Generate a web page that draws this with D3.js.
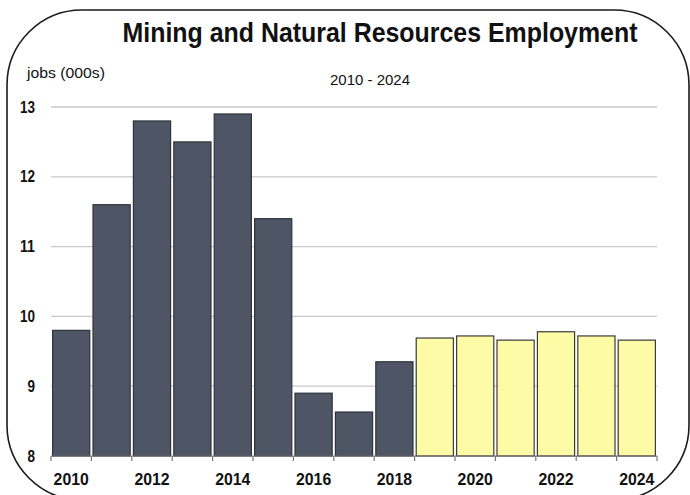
<!DOCTYPE html>
<html>
<head>
<meta charset="utf-8">
<script src="https://cdn.jsdelivr.net/npm/d3@7"></script>
<style>
  html, body { margin: 0; padding: 0; background: #fff; }
  svg { display: block; }
  text { font-family: "Liberation Sans Narrow", "Arial Narrow", "Liberation Sans", Arial, sans-serif; fill: #111; }
</style>
</head>
<body>
<svg id="chart" width="690" height="495"></svg>
<script>
// Mining and natural resources employment, thousands of jobs
const years = [2010, 2011, 2012, 2013, 2014, 2015, 2016, 2017, 2018, 2019, 2020, 2021, 2022, 2023, 2024];
const jobs = [9.8, 11.6, 12.8, 12.5, 12.9, 11.4, 8.9, 8.63, 9.35, 9.69, 9.72, 9.66, 9.78, 9.72, 9.66];
// 2019 onward are projected values
const projected = [false, false, false, false, false, false, false, false, false, true, true, true, true, true, true];
const yTicks = [8, 9, 10, 11, 12, 13];
const xLabels = [2010, 2012, 2014, 2016, 2018, 2020, 2022, 2024];

const W = 690, H = 495;
const margin = { left: 51, right: 33, top: 107, bottom: 39 };
const svg = d3.select("#chart");

// condensed text helper: squeezes a label into a given width
function narrow(sel, perChar) {
  sel.attr("lengthAdjust", "spacingAndGlyphs")
     .attr("textLength", d => String(d).length * perChar);
}

// rounded frame around the chart
svg.append("rect")
  .attr("x", 7).attr("y", 10)
  .attr("width", 682).attr("height", 490)
  .attr("rx", 75).attr("ry", 75)
  .attr("fill", "none")
  .attr("stroke", "#1a1a1a")
  .attr("stroke-width", 1.6);

const x = d3.scaleBand()
  .domain(years)
  .range([margin.left, W - margin.right])
  .paddingInner(0.08)
  .paddingOuter(0.04);

const y = d3.scaleLinear()
  .domain([8, 13])
  .range([H - margin.bottom, margin.top]);

// horizontal gridlines
svg.append("g")
  .selectAll("line")
  .data(yTicks.filter(d => d > 8))
  .join("line")
  .attr("x1", margin.left).attr("x2", W - margin.right)
  .attr("y1", d => y(d)).attr("y2", d => y(d))
  .attr("stroke", "#c8c8c8")
  .attr("stroke-width", 1.3);

// y tick labels
svg.append("g")
  .selectAll("text")
  .data(yTicks)
  .join("text")
  .attr("x", 35)
  .attr("y", d => y(d))
  .attr("dy", "0.35em")
  .attr("text-anchor", "end")
  .attr("font-size", 16)
  .attr("font-weight", "bold")
  .text(d => d)
  .call(narrow, 7.5);

// bars
svg.append("g")
  .selectAll("rect")
  .data(years)
  .join("rect")
  .attr("x", d => x(d))
  .attr("width", x.bandwidth())
  .attr("y", (d, i) => y(jobs[i]))
  .attr("height", (d, i) => y(8) - y(jobs[i]))
  .attr("fill", (d, i) => projected[i] ? "#fdfba6" : "#4e5666")
  .attr("stroke", (d, i) => projected[i] ? "#3a3a3a" : "#2e323a")
  .attr("stroke-width", 1.2);

// x axis with ticks between bars
const xAxisY = y(8);
const boundaries = d3.range(years.length + 1).map(i => margin.left + i * x.step());
const axisG = svg.append("g");
axisG.append("line")
  .attr("x1", margin.left).attr("x2", W - margin.right)
  .attr("y1", xAxisY).attr("y2", xAxisY)
  .attr("stroke", "#777").attr("stroke-width", 1.2);
axisG.selectAll("line.tick")
  .data(boundaries)
  .join("line")
  .attr("class", "tick")
  .attr("x1", d => d).attr("x2", d => d)
  .attr("y1", xAxisY).attr("y2", xAxisY + 5)
  .attr("stroke", "#777").attr("stroke-width", 1.2);
axisG.selectAll("text")
  .data(xLabels)
  .join("text")
  .attr("x", d => x(d) + x.bandwidth() / 2)
  .attr("y", 485)
  .attr("text-anchor", "middle")
  .attr("font-size", 17)
  .attr("font-weight", "bold")
  .text(d => d)
  .call(narrow, 8.8);

// title, condensed horizontally to span 515px centred at x = 380
const title = svg.append("g");
const titleText = title.append("text")
  .attr("x", 0).attr("y", 0)
  .attr("text-anchor", "middle")
  .attr("font-size", 28)
  .attr("font-weight", "bold")
  .text("Mining and Natural Resources Employment");
const natural = titleText.node().getComputedTextLength();
title.attr("transform", `translate(380,42) scale(${515 / natural},1)`);

svg.append("text")
  .attr("x", 370).attr("y", 85)
  .attr("text-anchor", "middle")
  .attr("font-size", 15)
  .attr("lengthAdjust", "spacingAndGlyphs")
  .attr("textLength", 80)
  .text("2010 - 2024");

svg.append("text")
  .attr("x", 27).attr("y", 78)
  .attr("font-size", 14)
  .attr("lengthAdjust", "spacingAndGlyphs")
  .attr("textLength", 78)
  .text("jobs (000s)");
</script>
</body>
</html>
